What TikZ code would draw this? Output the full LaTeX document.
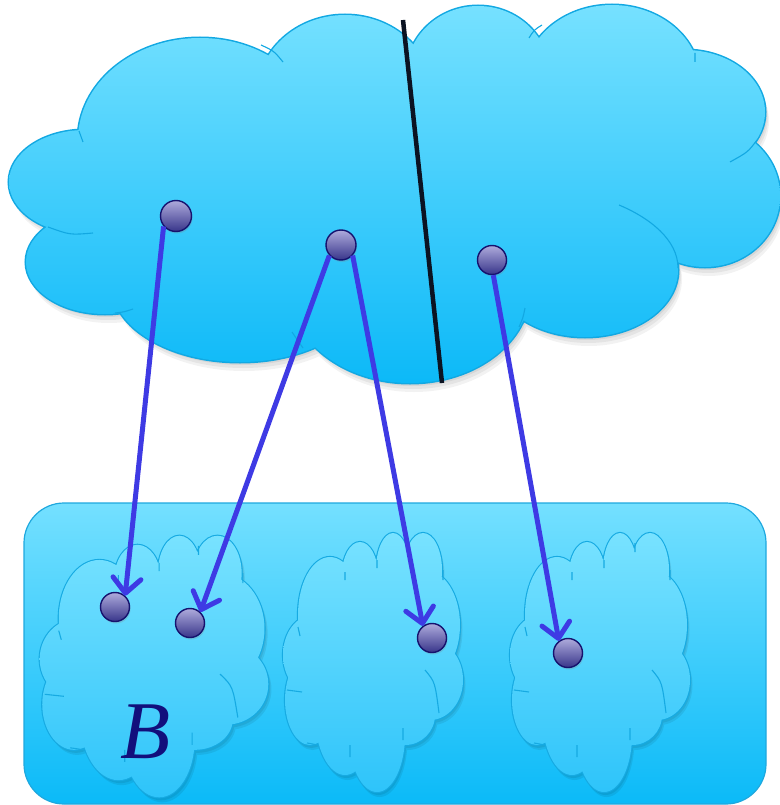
\documentclass[tikz,border=0pt]{standalone}
\usepackage{fontspec}
\setmainfont{Liberation Serif}
\usetikzlibrary{arrows.meta,shadows}
\definecolor{cloudtop}{HTML}{76E1FF}
\definecolor{cloudbot}{HTML}{0CB9F8}
\definecolor{cloudline}{HTML}{12A8E2}
\definecolor{boxtop}{HTML}{74E0FF}
\definecolor{boxbot}{HTML}{0BBAF8}
\definecolor{boxline}{HTML}{1FA8DE}
\definecolor{smtop}{HTML}{78E2FF}
\definecolor{smbot}{HTML}{2EC4FA}
\definecolor{smline}{HTML}{16AAE2}
\definecolor{arrowblue}{HTML}{3E3AE4}
\definecolor{dottop}{HTML}{AEABDC}
\definecolor{dotbot}{HTML}{38358A}
\definecolor{dotline}{HTML}{16126E}
\definecolor{labelnavy}{HTML}{120F7C}
\definecolor{sepline}{HTML}{0B1322}

\newcommand\bigcloudshape{%
 (85,182) ellipse [x radius=76, y radius=52]
 (105,262) ellipse [x radius=79, y radius=52]
 (240,285) ellipse [x radius=128, y radius=77]
 (410,290) ellipse [x radius=120, y radius=93]
 (585,270) ellipse [x radius=93, y radius=67]
 (705,196) ellipse [x radius=75, y radius=71]
 (685,112) ellipse [x radius=80, y radius=62]
 (612,80) ellipse [x radius=88, y radius=75]
 (478,75) ellipse [x radius=72, y radius=69]
 (345,95) ellipse [x radius=88, y radius=80]
 (200,140) ellipse [x radius=122, y radius=102]
 (400,200) ellipse [x radius=280, y radius=120]}

\newcommand\smcloudshape{%
 (-43,-47) ellipse [x radius=32, y radius=58]
 (-13,-87) ellipse [x radius=18, y radius=33]
 (20,-92) ellipse [x radius=17, y radius=37]
 (50,-92) ellipse [x radius=19, y radius=37]
 (52,-37) ellipse [x radius=35, y radius=55]
 (57,18) ellipse [x radius=33, y radius=40]
 (32,53) ellipse [x radius=30, y radius=30]
 (4,73) ellipse [x radius=28, y radius=57]
 (-28,53) ellipse [x radius=30, y radius=60]
 (-63,38) ellipse [x radius=25, y radius=45]
 (-60,-7) ellipse [x radius=30, y radius=40]
 (0,-12) ellipse [x radius=70, y radius=90]}

\newcommand\smcloud[4]{%
 \begin{scope}[shift={(#1,#2)}, xscale=#3, yscale=#4]
  \fill[black, opacity=0.07] [shift={(1.5,3)}] \smcloudshape;
  \fill[black, opacity=0.07] [shift={(2.5,5)}] \smcloudshape;
  \draw[smline, line width=2.2pt] \smcloudshape;
  \shade[top color=smtop, bottom color=smbot] \smcloudshape;
  \draw[tick, smline]
   (-28,-90) -- (-28,-82)
   (4,-102) -- (4,-94)
   (35,-119) -- (35,-110)
   (70,-92) -- (70,-82)
   (-75,-35) -- (-73,-26)
   (52,8) .. controls (62,20) .. (66,51)
   (-86,28) -- (-71,30)
   (-23,95) -- (-23,83)
   (30,78) -- (30,66)
   (-66,81) -- (-55,83);
 \end{scope}}

\begin{document}
\begin{tikzpicture}[x=1pt,y=-1pt,
  tick/.style={line width=1.1pt},
  dotnode/.style={circle, minimum size=29pt, inner sep=0pt,
    top color=dottop, bottom color=dotbot, draw=dotline, line width=1.4pt,
    drop shadow={shadow xshift=1pt, shadow yshift=-2pt, opacity=0.25}},
  arr/.style={draw=arrowblue, line width=5pt,
    -{Straight Barb[length=15pt, width=28pt, round]}},
  label/.style={text=labelnavy, inner sep=0pt,
    font=\fontsize{82}{82}\selectfont\itshape}]
\useasboundingbox (0,0) rectangle (779,805);

% big cloud
\fill[black, opacity=0.06] [shift={(2,3)}] \bigcloudshape;
\fill[black, opacity=0.06] [shift={(3,6)}] \bigcloudshape;
\fill[black, opacity=0.05] [shift={(4,9)}] \bigcloudshape;
\draw[cloudline, line width=3pt] \bigcloudshape;
\shade[top color=cloudtop, bottom color=cloudbot] \bigcloudshape;
\draw[cloudline, tick]
 (261,45) .. controls (274,51) .. (283,62)
 (79,131) .. controls (81,137) .. (83,142)
 (48,227) .. controls (70,235) .. (93,233)
 (115,313) .. controls (124,312) .. (133,309)
 (303,348) .. controls (296,338) .. (292,332)
 (525,308) .. controls (523,318) .. (519,327)
 (619,205) .. controls (650,218) and (678,240) .. (678,268)
 (757,140) .. controls (748,152) .. (730,162)
 (695,53) -- (695,62)
 (542,25) .. controls (534,30) .. (529,38);

% separator
\coordinate (s1) at (403,20);
\coordinate (s2) at (442,383);
\draw[sepline, line width=4.5pt] (s1) -- (s2);

% box
\shadedraw[top color=boxtop, bottom color=boxbot, draw=boxline, line width=1.2pt,
  rounded corners=40pt] (24,503) rectangle (766,804);

% small clouds
\smcloud{154}{666}{1.27}{1.01}
\smcloud{373}{662}{1}{1}
\smcloud{600}{662}{1}{1}

\node[label] (lab) at (146,732) {B};

% dots
\node[dotnode, minimum size=31pt] (t1) at (176,216) {};
\node[dotnode, minimum size=30pt] (t2) at (341,245) {};
\node[dotnode] (t3) at (492,260) {};
\node[dotnode] (b1) at (115,607) {};
\node[dotnode] (b2) at (190,623) {};
\node[dotnode] (b3) at (432,638) {};
\node[dotnode] (b4) at (568,653) {};

% arrows
\draw[arr] (t1.220) -- (b1.48);
\draw[arr] (t2.222) -- (b2.47);
\draw[arr] (t2.318) -- (b3.127);
\draw[arr] (t3.275) -- (b4.127);
\end{tikzpicture}
\end{document}
